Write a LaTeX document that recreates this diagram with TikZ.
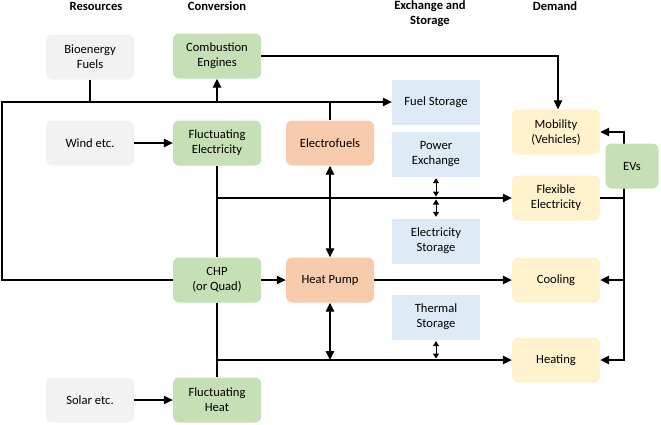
\documentclass[tikz,border=0pt]{standalone}
\usepackage{fontspec}
\setmainfont{Carlito}
\usepackage{tikz}
\usetikzlibrary{positioning, arrows.meta}

\definecolor{resgray}{HTML}{F2F2F2}
\definecolor{convgreen}{HTML}{C5E0B4}
\definecolor{hporange}{HTML}{F8CBAD}
\definecolor{stoblue}{HTML}{DEEBF7}
\definecolor{demyellow}{HTML}{FFF2CC}

\begin{document}
\begin{tikzpicture}[x=1pt, y=1pt]
    \tikzstyle{box}=[minimum width=88pt, minimum height=45pt, inner sep=2pt, align=center, font=\fontsize{12.6}{15}\selectfont]
    \tikzstyle{resource}=[box, fill=resgray, rounded corners=6pt]
    \tikzstyle{convert}=[box, fill=convgreen, rounded corners=6pt]
    \tikzstyle{pump}=[box, fill=hporange, rounded corners=6pt]
    \tikzstyle{store}=[box, fill=stoblue]
    \tikzstyle{demand}=[box, fill=demyellow, rounded corners=6pt]
    \tikzstyle{header}=[align=center, font=\fontsize{12.6}{15}\selectfont\bfseries]
    \tikzstyle{arr}=[line width=1.2pt, -{Triangle[length=9pt, width=8.5pt]}]
    \tikzstyle{arrboth}=[line width=1.2pt, {Triangle[length=9pt, width=8.5pt]}-{Triangle[length=9pt, width=8.5pt]}]
    \tikzstyle{link}=[line width=1pt, {Triangle[length=5pt, width=6pt]}-{Triangle[length=5pt, width=6pt]}, shorten <=1.5pt, shorten >=1.5pt]
    \tikzstyle{line}=[line width=1.2pt]
    \tikzset{node distance=127pt, auto}

    \useasboundingbox (0,0) rectangle (661,-424);

    \node[resource] at (90,-143) (wind) {Wind etc.};
    \node[resource, above of=wind, node distance=86pt] (bio) {Bioenergy\\Fuels};
    \node[resource, below of=wind, node distance=257pt] (solar) {Solar etc.};
    \node[convert, right of=wind] (fluel) {Fluctuating\\Electricity};
    \node[convert, above of=fluel, node distance=87pt] (comb) {Combustion\\Engines};
    \node[convert, below of=fluel, node distance=137pt] (chp) {CHP\\(or Quad)};
    \node[convert, right of=solar] (fluheat) {Fluctuating\\Heat};
    \node[pump, right of=fluel, node distance=113pt] (elfuel) {Electrofuels};
    \node[pump, right of=chp, node distance=113pt] (hp) {Heat Pump};

    \node[store, right of=elfuel, node distance=106pt, yshift=41pt] (fuelsto) {Fuel Storage};
    \node[store, right of=elfuel, node distance=106pt, yshift=-11pt] (powex) {Power\\Exchange};
    \node[store, right of=hp, node distance=106pt, yshift=39pt] (elsto) {Electricity\\Storage};
    \node[store, right of=hp, node distance=106pt, yshift=-37pt] (thsto) {Thermal\\Storage};

    \node[demand, right of=hp, node distance=226pt] (cool) {Cooling};
    \node[demand, below of=cool, node distance=80pt] (heat) {Heating};
    \node[demand, above of=cool, node distance=82pt] (flex) {Flexible\\Electricity};
    \node[demand, above of=flex, node distance=66pt] (mob) {Mobility\\(Vehicles)};

    \node[header, above of=bio, node distance=51pt, xshift=6pt] (hres) {Resources};
    \node[header, above of=comb, node distance=50pt] (hconv) {Conversion};
    \node[header, right of=hconv, node distance=213pt, yshift=-7.5pt] (hexch) {Exchange and\\Storage};
    \node[header, right of=hconv, node distance=338pt] (hdem) {Demand};

    \coordinate (loop) at (2,-102);
    \coordinate[right of=flex, node distance=68pt] (evbus);

    % fuels
    \draw[arr] (chp.west) -| (loop) -- (fuelsto.west);
    \draw[line] (bio.south) -- (bio.south |- loop);
    \draw[arr] (comb.south |- loop) -- (comb.south);
    \draw[line] (elfuel.north) -- (elfuel.north |- loop);
    \draw[arr] (comb.east) -| ([xshift=2pt]mob.north);

    % electricity
    \draw[arr] (wind) -- (fluel);
    \draw[line] (fluel.south) -- (chp.north);
    \draw[arr] (fluel.south |- flex.west) -- (flex.west);
    \draw[arrboth] (elfuel.south) -- (hp.north);
    \draw[link] (powex.south) -- (powex.south |- flex.west);
    \draw[link] (elsto.north) -- (elsto.north |- flex.west);

    % heat
    \draw[arr] (chp) -- (hp);
    \draw[arr] (hp) -- (cool);
    \draw[arr] (solar) -- (fluheat);
    \draw[line] (chp.south) -- (fluheat.north);
    \draw[arr] (chp.south |- heat.west) -- (heat.west);
    \draw[arrboth] (hp.south) -- (hp.south |- heat.west);
    \draw[link] (thsto.south) -- (thsto.south |- heat.west);

    % flexible demand
    \draw[arr] (flex.east) -- (evbus) |- (mob.east);
    \draw[arr] (evbus) |- (cool.east);
    \draw[arr] (evbus) |- (heat.east);

    \node[convert, minimum width=53pt, right of=mob, node distance=76pt, yshift=-34pt] (evs) {EVs};
\end{tikzpicture}
\end{document}
